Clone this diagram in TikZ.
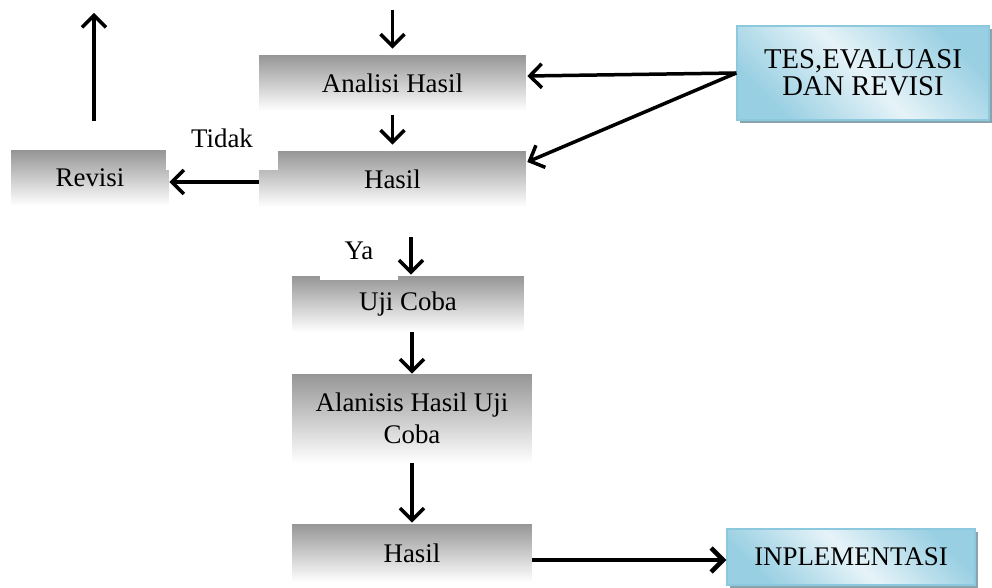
\documentclass[tikz,border=0pt]{standalone}
\usepackage{fontspec}
\setmainfont{Liberation Serif}
\usetikzlibrary{arrows.meta,calc,shadows}
\definecolor{boxgray}{RGB}{150,150,150}
\definecolor{tesdark}{RGB}{152,207,226}
\definecolor{teslight}{RGB}{230,243,248}
\definecolor{tesline}{RGB}{140,200,222}
\definecolor{tesshadow}{RGB}{138,164,174}

\begin{document}
\begin{tikzpicture}[x=0.02cm,y=-0.02cm,
    txt/.style={font=\fontsize{15.3}{18}\selectfont,align=center},
    graybox/.style={txt,inner sep=0pt,top color=boxgray,bottom color=white},
    bluebox/.style={txt,inner sep=0pt,draw=tesline,line width=0.03cm,
        left color=tesdark,right color=tesdark,middle color=teslight,shading angle=-45,
        drop shadow={shadow xshift=0.06cm,shadow yshift=-0.06cm,fill=tesshadow,opacity=1}},
    lbl/.style={txt,fill=white,inner ysep=0pt,inner xsep=0.5cm,anchor=base},
    arr/.style={line width=0.07cm,-{Straight Barb[length=0.24cm,width=0.48cm]}}]
    \useasboundingbox (0,0) rectangle (992,588);
    \node [graybox,minimum width=5.34cm,minimum height=1.12cm] (analisi) at (392.5,83) {Analisi Hasil};
    \node [graybox,minimum width=5.34cm,minimum height=1.12cm] (hasil) at (392.5,179) {Hasil};
    \node [graybox,minimum width=3.16cm,minimum height=1.1cm] (revisi) at (90,178) {Revisi};
    \node [graybox,minimum width=4.64cm,minimum height=1.12cm] (uji) at (408,304) {Uji Coba};
    \node [graybox,minimum width=4.8cm,minimum height=1.78cm,font=\fontsize{15.3}{18.2}\selectfont] (alanisis) at (412,418.5) {Alanisis Hasil Uji\\Coba};
    \node [graybox,minimum width=4.8cm,minimum height=1.16cm] (hasilb) at (412,553) {Hasil};
    \node [bluebox,minimum width=5.04cm,minimum height=1.88cm,font=\fontsize{16.3}{15.1}\selectfont] (tes) at (863,73) {TES,EVALUASI\\DAN REVISI};
    \node [bluebox,minimum width=4.96cm,minimum height=1.12cm] (impl) at (851,557) {INPLEMENTASI};
    \node [lbl,text depth=0.44cm] (tidak) at (222,148) {Tidak};
    \node [lbl,text depth=0.4cm] (ya) at (359,260) {Ya};
    \coordinate (intop) at (392.5,10);
    \coordinate (uptop) at (94,13);
    \coordinate (yatop) at (411,237);
    \draw [arr,shorten >=0.12cm] (intop) -- (analisi.north);
    \draw [arr,shorten <=0.08cm,shorten >=0.12cm] (analisi.south) -- (hasil.north);
    \draw [arr,shorten <=0.58cm] (revisi.north -| uptop) -- (uptop);
    \draw [arr] ([yshift=-0.06cm]hasil.west) -- ([yshift=-0.08cm]revisi.east);
    \draw [arr] (tes.west) -- ($(analisi.east)+(1,-7)$);
    \draw [arr] (tes.west) -- ($(hasil.east)+(1,-17)$);
    \draw [arr,shorten >=0.02cm] (yatop) -- (yatop |- uji.north);
    \draw [arr] (alanisis.north |- uji.south) -- (alanisis.north);
    \draw [arr,shorten >=0.02cm] (alanisis.south) -- (hasilb.north);
    \draw [arr,line width=0.09cm] ([yshift=-0.06cm]hasilb.east |- impl.west) -- ([yshift=-0.06cm]impl.west);
\end{tikzpicture}
\end{document}
